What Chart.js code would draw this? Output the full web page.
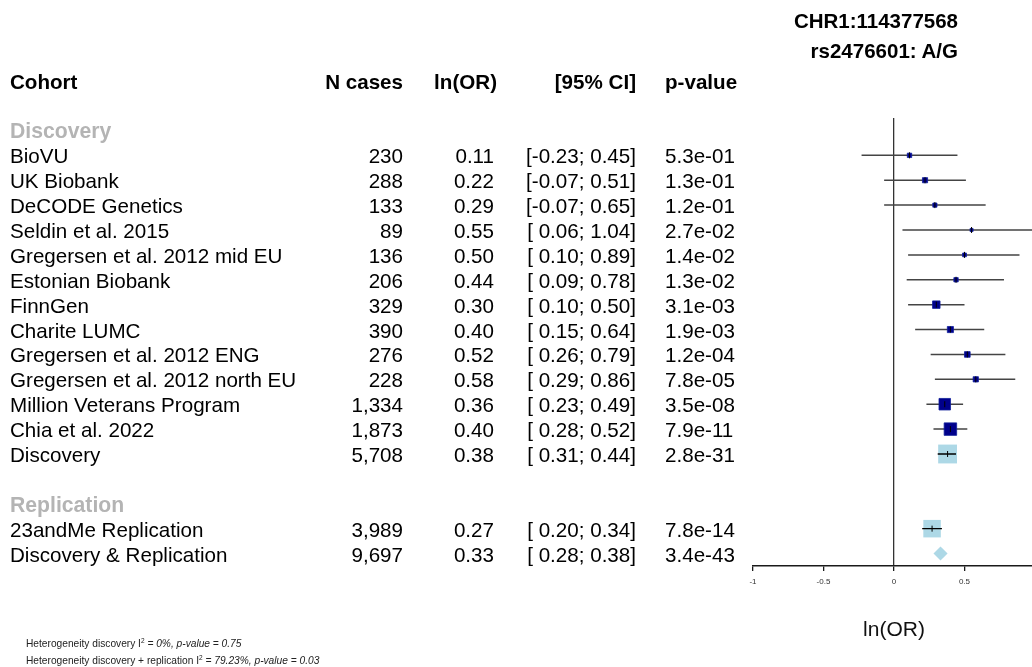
<!DOCTYPE html>
<html>
<head>
<meta charset="utf-8">
<title>Forest plot rs2476601</title>
<script src="https://cdn.jsdelivr.net/npm/chart.js@4.4.1/dist/chart.umd.min.js"></script>
<style>
  html, body { margin: 0; padding: 0; background: #fff; overflow: hidden; }
  #wrap { position: relative; width: 1032px; height: 667px; overflow: hidden;
          font-family: 'Liberation Sans', Arial, sans-serif; color: #000; }
  #plot { position: absolute; left: 0; top: 0; }
  .t { position: absolute; white-space: pre; line-height: 1; transform: translateY(-46%); font-size: 20.6px; }
  .b { font-weight: bold; }
  .grp { font-weight: bold; color: #b4b4b4; font-size: 21.2px; }
  .title { position: absolute; right: 74px; font-weight: bold; font-size: 20.5px; white-space: pre;
           line-height: 1; transform: translateY(-50%); }
  .note { position: absolute; left: 26px; font-size: 10.2px; color: #222; white-space: pre;
          line-height: 1; transform: translateY(-50%); }
  .note sup { font-size: 6.5px; vertical-align: 4px; line-height: 0; }
</style>
</head>
<body>
<div id="wrap">
  <canvas id="plot" width="1050" height="667"></canvas>
  <div class="title" style="top:21px">CHR1:114377568</div>
  <div class="title" style="top:51px">rs2476601: A/G</div>
  <div class="note" style="top:643.5px">Heterogeneity discovery I<sup>2</sup> <i>= 0%, p-value = 0.75</i></div>
  <div class="note" style="top:660.5px">Heterogeneity discovery + replication I<sup>2</sup> <i>= 79.23%, p-value = 0.03</i></div>
</div>
<script>
// ---- data ----
const cohorts = ['BioVU', 'UK Biobank', 'DeCODE Genetics', 'Seldin et al. 2015',
  'Gregersen et al. 2012 mid EU', 'Estonian Biobank', 'FinnGen', 'Charite LUMC',
  'Gregersen et al. 2012 ENG', 'Gregersen et al. 2012 north EU', 'Million Veterans Program',
  'Chia et al. 2022', 'Discovery', '23andMe Replication', 'Discovery & Replication'];
const cohortRows = [1, 2, 3, 4, 5, 6, 7, 8, 9, 10, 11, 12, 13, 16, 17];
const markerKind = ['study', 'study', 'study', 'study', 'study', 'study', 'study', 'study',
  'study', 'study', 'study', 'study', 'pooled', 'pooled', 'diamond'];
const nCases = [230, 288, 133, 89, 136, 206, 329, 390, 276, 228, 1334, 1873, 5708, 3989, 9697];
const lnOR = [0.11, 0.22, 0.29, 0.55, 0.50, 0.44, 0.30, 0.40, 0.52, 0.58, 0.36, 0.40, 0.38, 0.27, 0.33];
const ciLow = [-0.23, -0.07, -0.07, 0.06, 0.10, 0.09, 0.10, 0.15, 0.26, 0.29, 0.23, 0.28, 0.31, 0.20, 0.28];
const ciHigh = [0.45, 0.51, 0.65, 1.04, 0.89, 0.78, 0.50, 0.64, 0.79, 0.86, 0.49, 0.52, 0.44, 0.34, 0.38];
const pValues = [5.3e-1, 1.3e-1, 1.2e-1, 2.7e-2, 1.4e-2, 1.3e-2, 3.1e-3, 1.9e-3, 1.2e-4, 7.8e-5,
  3.5e-8, 7.9e-11, 2.8e-31, 7.8e-14, 3.4e-43];
const groupHeaders = ['Discovery', 'Replication'];
const groupRows = [0, 15];
const headers = ['Cohort', 'N cases', 'ln(OR)', '[95% CI]', 'p-value'];

const NAVY = '#00008B', LIGHT = '#ADD8E6';
Chart.defaults.font.family = "'Liberation Sans', Arial, sans-serif";

// box side follows precision (1 / CI width), like the weights in the original
const boxSide = i => markerKind[i] === 'study' ? 3.0 / (ciHigh[i] - ciLow[i]) : 2.45 / (ciHigh[i] - ciLow[i]);

const idxStudy = [], idxPooled = [], idxDiamond = [];
markerKind.forEach((k, i) => (k === 'study' ? idxStudy : k === 'pooled' ? idxPooled : idxDiamond).push(i));

// CI whiskers as broken lines (null point = gap)
const ciLine = idx => idx.flatMap(i => [
  { x: ciLow[i], y: cohortRows[i] }, { x: ciHigh[i], y: cohortRows[i] }, { x: ciHigh[i], y: null }
]);
const pts = idx => idx.map(i => ({ x: lnOR[i], y: cohortRows[i] }));

const chart = new Chart(document.getElementById('plot'), {
  type: 'scatter',
  data: {
    datasets: [
      { data: pts(idxStudy.concat(idxPooled)), pointStyle: 'line', rotation: 90, pointRadius: 3,
        borderColor: '#000', borderWidth: 1, order: 0 },
      { data: ciLine(idxPooled), showLine: true, pointRadius: 0, borderColor: '#000', borderWidth: 1.3, order: 1 },
      { data: pts(idxPooled), pointStyle: 'rect', backgroundColor: LIGHT, borderWidth: 0,
        pointRadius: c => boxSide(idxPooled[c.dataIndex]) / Math.SQRT2, order: 2 },
      { data: pts(idxDiamond), pointStyle: 'rectRot', backgroundColor: LIGHT, borderWidth: 0, order: 2,
        pointRadius: c => {
          const xs = c.chart.scales.x, i = idxDiamond[c.dataIndex];
          return (xs.getPixelForValue(ciHigh[i]) - xs.getPixelForValue(ciLow[i])) / 2;
        } },
      { data: pts(idxStudy), pointStyle: 'rect', backgroundColor: NAVY, borderColor: '#10209a', borderWidth: 0.8,
        pointRadius: c => boxSide(idxStudy[c.dataIndex]) / Math.SQRT2, order: 3 },
      { data: ciLine(idxStudy), showLine: true, pointRadius: 0, borderColor: '#444', borderWidth: 1.5, order: 4 },
    ],
  },
  options: {
    responsive: false, animation: false, events: [],
    layout: { padding: { left: 753, top: 118, right: 15, bottom: 24 } },
    plugins: { legend: { display: false }, tooltip: { enabled: false } },
    scales: {
      x: {
        type: 'linear', min: -1, max: 1,
        border: { display: true, color: '#1a1a1a', width: 1.5 },
        grid: {
          color: c => (c.tick && c.tick.value === 0 ? '#333' : 'rgba(0,0,0,0)'),
          lineWidth: 1.3, tickColor: '#1a1a1a', tickWidth: 1.3, tickLength: 5,
        },
        ticks: { stepSize: 0.5, padding: 6, color: '#333', font: { size: 8 }, maxRotation: 0, autoSkip: false,
          callback: v => String(v) },
        title: { display: true, text: 'ln(OR)', color: '#111', font: { size: 21 }, padding: { top: 25.2, bottom: 0 } },
      },
      y: { type: 'linear', reverse: true, min: -0.5, max: 17.5, display: false },
    },
  },
});

// ---- table text, placed on the rows of the chart's y scale ----
const wrap = document.getElementById('wrap');
const ys = chart.scales.y;
const W = 1032;
function put(text, y, cls, left, right) {
  const d = document.createElement('div');
  d.className = 't ' + (cls || '');
  d.textContent = text;
  d.style.top = y + 'px';
  if (left != null) d.style.left = left + 'px';
  else d.style.right = (W - right) + 'px';
  wrap.appendChild(d);
}
const fmtCI = v => (v < 0 ? '' : ' ') + v.toFixed(2);
const fmtP = v => v.toExponential(1).replace(/e([+-])(\d)$/, 'e$10$2');

const yHead = ys.getPixelForValue(-2);
put(headers[0], yHead, 'b', 10);
put(headers[1], yHead, 'b', null, 403);
put(headers[2], yHead, 'b', null, 497);
put(headers[3], yHead, 'b', null, 636);
put(headers[4], yHead, 'b', 665);

groupHeaders.forEach((g, k) => put(g, ys.getPixelForValue(groupRows[k]), 'grp', 10));

cohorts.forEach((c, i) => {
  const y = ys.getPixelForValue(cohortRows[i]);
  put(c, y, '', 10);
  put(nCases[i].toLocaleString('en-US'), y, '', null, 403);
  put(lnOR[i].toFixed(2), y, '', null, 494);
  put('[' + fmtCI(ciLow[i]) + '; ' + ciHigh[i].toFixed(2) + ']', y, '', null, 636);
  put(fmtP(pValues[i]), y, '', 665);
});
</script>
</body>
</html>
